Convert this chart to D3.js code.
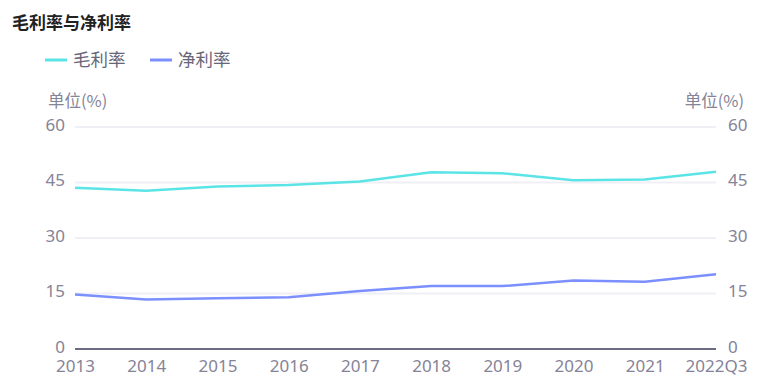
<!DOCTYPE html>
<html>
<head>
<meta charset="utf-8">
<script src="https://cdn.jsdelivr.net/npm/d3@7"></script>
<style>
  body { margin: 0; background: #fff; }
  svg { font-family: "Noto Sans CJK SC", "Noto Sans", sans-serif; }
</style>
</head>
<body>
<svg id="chart" width="765" height="389"></svg>
<script>
// data
var years = ['2013', '2014', '2015', '2016', '2017', '2018', '2019', '2020', '2021', '2022Q3'];
var grossMargin = [43.6, 42.8, 43.9, 44.3, 45.3, 47.8, 47.5, 45.6, 45.8, 47.9];
var netMargin = [14.7, 13.4, 13.7, 14.0, 15.7, 17.0, 17.0, 18.5, 18.2, 20.2];
var yTicks = [0, 15, 30, 45, 60];
var seriesNames = ['毛利率', '净利率'];

var colors = ['#5ae4e6', '#7b8fff'];
var margins = { top: 127, right: 49, bottom: 40, left: 75 };
var width = 765, height = 389;

var svg = d3.select('#chart');

var x = d3.scalePoint().domain(years).range([margins.left, width - margins.right]);
var y = d3.scaleLinear().domain([0, 60]).range([height - margins.bottom, margins.top]);

// title
svg.append('text')
  .attr('x', 12).attr('y', 29)
  .attr('font-size', 17).attr('font-weight', 'bold')
  .attr('fill', '#222')
  .text('毛利率与净利率');

// legend
var legendX = [45, 150];
seriesNames.forEach(function (name, i) {
  svg.append('line')
    .attr('x1', legendX[i]).attr('x2', legendX[i] + 22)
    .attr('y1', 60).attr('y2', 60)
    .attr('stroke', colors[i]).attr('stroke-width', 3);
  svg.append('text')
    .attr('x', legendX[i] + 28).attr('y', 66)
    .attr('font-size', 17.5).attr('fill', '#666678')
    .text(name);
});

// unit labels
svg.append('text')
  .attr('x', 48).attr('y', 107)
  .attr('font-size', 16.5).attr('fill', '#858397')
  .text('单位(%)');
svg.append('text')
  .attr('x', 744).attr('y', 107)
  .attr('text-anchor', 'end')
  .attr('font-size', 16.5).attr('fill', '#858397')
  .text('单位(%)');

// gridlines
svg.append('g').selectAll('line').data(yTicks.filter(function (d) { return d > 0; }))
  .enter().append('line')
  .attr('x1', margins.left).attr('x2', width - margins.right)
  .attr('y1', function (d) { return y(d); }).attr('y2', function (d) { return y(d); })
  .attr('stroke', '#efeff6').attr('stroke-width', 2);

// y axes
var leftAxis = svg.append('g')
  .attr('transform', 'translate(' + (margins.left - 10) + ',0)')
  .call(d3.axisLeft(y).tickValues(yTicks).tickSize(0).tickPadding(0));
var rightAxis = svg.append('g')
  .attr('transform', 'translate(' + (width - margins.right + 12) + ',0)')
  .call(d3.axisRight(y).tickValues(yTicks).tickSize(0).tickPadding(0));
[leftAxis, rightAxis].forEach(function (a) {
  a.select('.domain').remove();
  a.selectAll('text').attr('font-size', 17).attr('fill', '#858397')
    .attr('font-family', '"Noto Sans", sans-serif').attr('dy', '0.2em');
});

// x axis
var xAxis = svg.append('g')
  .attr('transform', 'translate(0,' + y(0) + ')')
  .call(d3.axisBottom(x).tickSize(0).tickPadding(11));
xAxis.select('.domain').attr('stroke', '#6c6b86').attr('stroke-width', 2)
  .attr('d', 'M' + margins.left + ',0H' + (width - margins.right));
xAxis.selectAll('text').attr('font-size', 17).attr('fill', '#858397')
  .attr('font-family', '"Noto Sans", sans-serif');

// lines
var line = d3.line()
  .x(function (d, i) { return x(years[i]); })
  .y(function (d) { return y(d); });

[grossMargin, netMargin].forEach(function (series, i) {
  svg.append('path')
    .datum(series)
    .attr('fill', 'none')
    .attr('stroke', colors[i])
    .attr('stroke-width', 2.5)
    .attr('d', line);
});
</script>
</body>
</html>
